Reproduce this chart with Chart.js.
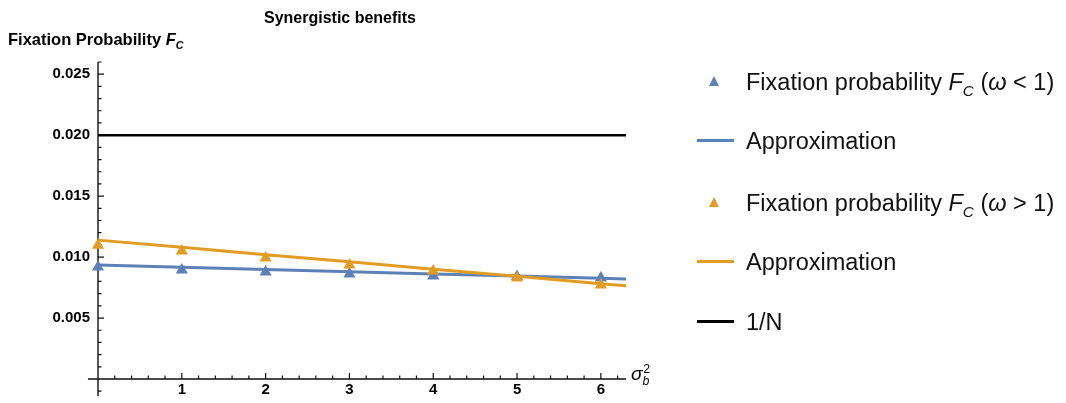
<!DOCTYPE html>
<html>
<head>
<meta charset="utf-8">
<script src="https://cdn.jsdelivr.net/npm/chart.js@4.4.1/dist/chart.umd.min.js"></script>
<style>
  html, body { margin: 0; padding: 0; background: #fff; overflow: hidden; }
  #wrap { position: relative; width: 1066px; height: 403px; font-family: "Liberation Sans", Arial, sans-serif; }
  #c { position: absolute; left: 0; top: 0; }
  .txt { position: absolute; white-space: nowrap; color: #000; }
  #title { left: 0; width: 680px; top: 9px; text-align: center; font-weight: bold; font-size: 16px; }
  #ylab { left: 8px; top: 30px; font-weight: bold; font-size: 16.5px; }
  #xlab { left: 631px; top: 363px; font-size: 19px; }
  .legend-item { position: absolute; left: 690px; height: 30px; display: flex; align-items: center; font-size: 23.5px; color: #111; }
  .mk { width: 46px; height: 30px; position: relative; margin-right: 10px; }
  .mk .ln { position: absolute; left: 7px; top: 13px; width: 37px; height: 3px; }
  .mk .tri { position: absolute; left: 19px; top: 9px; width: 0; height: 0;
             border-left: 5.5px solid transparent; border-right: 5.5px solid transparent; border-bottom: 10px solid; }
  sub, sup { font-size: 65%; line-height: 0; }
</style>
</head>
<body>
<div id="wrap">
  <canvas id="c" width="1066" height="403"></canvas>
  <div class="txt" id="title">Synergistic benefits</div>
  <div class="txt" id="ylab">Fixation Probability <i>F</i><sub><i>C</i></sub></div>
  <div class="txt" id="xlab"><i>σ</i><sub><i>b</i></sub><sup style="margin-left:-6px">2</sup></div>
  <div id="legend"></div>
</div>
<script>
// ---- data ----
const xPoints = [0, 1, 2, 3, 4, 5, 6];
const fixLow  = [0.00918, 0.00893, 0.00877, 0.00861, 0.00844, 0.00840, 0.00828];
const fixHigh = [0.01098, 0.01049, 0.00992, 0.00934, 0.00885, 0.00828, 0.00770];
const approxX    = [0, 1, 2, 3, 4, 5, 6, 6.3];
const approxLow  = [0.00934, 0.00916, 0.00898, 0.00880, 0.00862, 0.00844, 0.00826, 0.00820];
const approxHigh = [0.01139, 0.01080, 0.01020, 0.00961, 0.00901, 0.00842, 0.00782, 0.00764];
const invNX = [0, 6.3];
const invN  = [0.02, 0.02];
const xTickValues = [1, 2, 3, 4, 5, 6];
const yTickValues = [0.005, 0.010, 0.015, 0.020, 0.025];
const seriesLabels = ['Fixation probability F_C (ω < 1)', 'Approximation', 'Fixation probability F_C (ω > 1)', 'Approximation', '1/N'];

const BLUE = '#5E81B5', ORANGE = '#E19C24', BLACK = '#000000';
const toXY = (xs, ys) => xs.map((x, i) => ({x: x, y: ys[i]}));

const axisExtent = { xMin: -0.12, xMax: 6.3, yMin: -0.0014, yMax: 0.026, xMinor: 0.2, yMinor: 0.001 };

const mathAxes = {
  id: 'mathAxes',
  beforeDatasetsDraw(chart) {
    const ctx = chart.ctx, xs = chart.scales.x, ys = chart.scales.y;
    const x0 = xs.getPixelForValue(0), y0 = ys.getPixelForValue(0);
    ctx.save();
    ctx.strokeStyle = '#111';
    ctx.lineWidth = 1.4;
    ctx.beginPath();
    ctx.moveTo(xs.getPixelForValue(axisExtent.xMin), y0);
    ctx.lineTo(xs.getPixelForValue(axisExtent.xMax), y0);
    ctx.moveTo(x0, ys.getPixelForValue(axisExtent.yMin));
    ctx.lineTo(x0, ys.getPixelForValue(axisExtent.yMax));
    ctx.stroke();
    ctx.lineWidth = 1.2;
    ctx.beginPath();
    for (let k = 1; k * axisExtent.xMinor <= axisExtent.xMax + 1e-9; k++) {
      const v = k * axisExtent.xMinor;
      const major = k % 5 === 0;
      const px = xs.getPixelForValue(v);
      ctx.moveTo(px, y0);
      ctx.lineTo(px, y0 - (major ? 6 : 3.5));
    }
    for (let k = -1; k * axisExtent.yMinor <= axisExtent.yMax + 1e-9; k++) {
      if (k === 0) continue;
      const v = k * axisExtent.yMinor;
      const major = k % 5 === 0;
      const py = ys.getPixelForValue(v);
      ctx.moveTo(x0, py);
      ctx.lineTo(x0 + (major ? 6 : 3.5), py);
    }
    ctx.stroke();
    ctx.restore();
  }
};

const tickFont = { family: '"Liberation Sans", Arial, sans-serif', size: 15, weight: 'bold' };

new Chart(document.getElementById('c'), {
  type: 'scatter',
  data: {
    datasets: [
      { label: seriesLabels[0], data: toXY(xPoints, fixLow), pointStyle: 'triangle', pointRadius: 7,
        backgroundColor: BLUE, borderColor: BLUE, borderWidth: 0, showLine: false, order: 4, clip: false },
      { label: seriesLabels[1], data: toXY(approxX, approxLow), showLine: true, pointRadius: 0,
        borderColor: BLUE, borderWidth: 3, tension: 0, order: 3, clip: false },
      { label: seriesLabels[2], data: toXY(xPoints, fixHigh), pointStyle: 'triangle', pointRadius: 7,
        backgroundColor: ORANGE, borderColor: ORANGE, borderWidth: 0, showLine: false, order: 2, clip: false },
      { label: seriesLabels[3], data: toXY(approxX, approxHigh), showLine: true, pointRadius: 0,
        borderColor: ORANGE, borderWidth: 3, tension: 0, order: 1, clip: false },
      { label: seriesLabels[4], data: toXY(invNX, invN), showLine: true, pointRadius: 0,
        borderColor: BLACK, borderWidth: 2.5, tension: 0, order: 0, clip: false }
    ]
  },
  options: {
    responsive: false,
    animation: false,
    events: [],
    layout: { padding: { left: 0, top: 62, right: 440, bottom: 0 } },
    plugins: { legend: { display: false }, title: { display: false }, tooltip: { enabled: false } },
    scales: {
      x: {
        type: 'linear', min: 0, max: 6.3,
        grid: { display: false, drawTicks: false },
        border: { display: false },
        afterFit(s) { s.height = 24; },
        afterBuildTicks(s) { s.ticks = xTickValues.map(v => ({value: v})); },
        ticks: { color: '#000', font: tickFont, padding: 2, maxRotation: 0, autoSkip: false,
                 callback: v => String(v) }
      },
      y: {
        type: 'linear', min: 0, max: 0.026,
        grid: { display: false, drawTicks: false },
        border: { display: false },
        afterFit(s) { s.width = 98; },
        afterBuildTicks(s) { s.ticks = yTickValues.map(v => ({value: v})); },
        ticks: { color: '#000', font: tickFont, padding: 8, autoSkip: false,
                 callback: v => Number(v).toFixed(3) }
      }
    }
  },
  plugins: [mathAxes]
});

// ---- legend (HTML) ----
const legendRows = [
  { kind: 'tri', color: BLUE,   html: 'Fixation probability <i>F</i><sub><i>C</i></sub> (<i>ω</i> &lt; 1)', top: 67 },
  { kind: 'ln',  color: BLUE,   html: 'Approximation', top: 126 },
  { kind: 'tri', color: ORANGE, html: 'Fixation probability <i>F</i><sub><i>C</i></sub> (<i>ω</i> &gt; 1)', top: 188 },
  { kind: 'ln',  color: ORANGE, html: 'Approximation', top: 247 },
  { kind: 'ln',  color: BLACK,  html: '1/N', top: 307 }
];
const lg = document.getElementById('legend');
legendRows.forEach(r => {
  const d = document.createElement('div');
  d.className = 'legend-item';
  d.style.top = r.top + 'px';
  const mk = document.createElement('div');
  mk.className = 'mk';
  const inner = document.createElement('div');
  inner.className = r.kind;
  if (r.kind === 'ln') inner.style.background = r.color; else inner.style.borderBottomColor = r.color;
  mk.appendChild(inner);
  const t = document.createElement('span');
  t.innerHTML = r.html;
  d.appendChild(mk);
  d.appendChild(t);
  lg.appendChild(d);
});
</script>
</body>
</html>
